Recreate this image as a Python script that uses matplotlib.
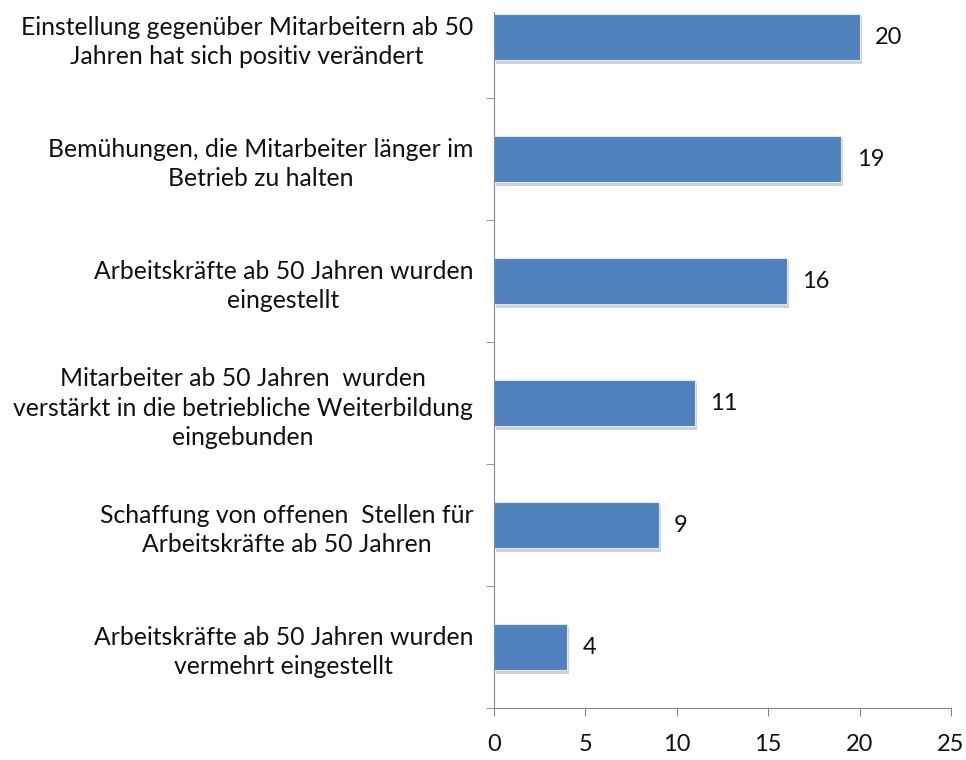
from matplotlib import pyplot as plt
from matplotlib import patheffects as pe
import numpy as np

labels = ['Arbeitskräfte ab 50 Jahren wurden\nvermehrt eingestellt',
          'Schaffung von offenen  Stellen für\nArbeitskräfte ab 50 Jahren',
          'Mitarbeiter ab 50 Jahren  wurden\nverstärkt in die betriebliche Weiterbildung\neingebunden',
          'Arbeitskräfte ab 50 Jahren wurden\neingestellt',
          'Bemühungen, die Mitarbeiter länger im\nBetrieb zu halten',
          'Einstellung gegenüber Mitarbeitern ab 50\nJahren hat sich positiv verändert']
values = [4, 9, 11, 16, 19, 20]
xticks = [0, 5, 10, 15, 20, 25]

plt.rcParams['font.family'] = ['Lato', 'DejaVu Sans']

fig = plt.figure(figsize=(9.66, 7.6), dpi=100)
ax = fig.add_axes([0.5114, 0.0684, 0.4731, 0.9158])

pos = np.arange(len(values))
bars = ax.barh(pos, values, height=0.38, color='#4F81BD', edgecolor='#DCE6F2', linewidth=0.8,
               path_effects=[pe.SimplePatchShadow(offset=(1.5, -2.5), shadow_rgbFace='#999999', alpha=0.45), pe.Normal()])

for p, v in zip(pos, values):
    ax.annotate(str(v), (v, p), xytext=(11, 0), textcoords='offset points',
                va='center', ha='left', fontsize=17, color='#111111')

ax.set_xlim(0, 25)
ax.set_ylim(-0.5, -0.5 + 696 / 122)
ax.set_xticks(xticks)
ax.set_xticklabels([str(t) for t in xticks], fontsize=17, color='#111111')
ax.tick_params(axis='x', length=6, color='#868686', pad=13)

ax.set_yticks(pos)
ax.set_yticklabels(labels, fontsize=17.8, multialignment='center', color='#111111')
for lab in ax.get_yticklabels():
    lab.set_linespacing(1.32)
ax.tick_params(axis='y', length=0, pad=15)
ax.set_yticks(np.arange(-0.5, 5, 1), minor=True)
ax.tick_params(axis='y', which='minor', length=6, color='#868686')

for s in ['top', 'right']:
    ax.spines[s].set_visible(False)
for s in ['left', 'bottom']:
    ax.spines[s].set_color('#868686')

fig.savefig('out.png', dpi=100)
